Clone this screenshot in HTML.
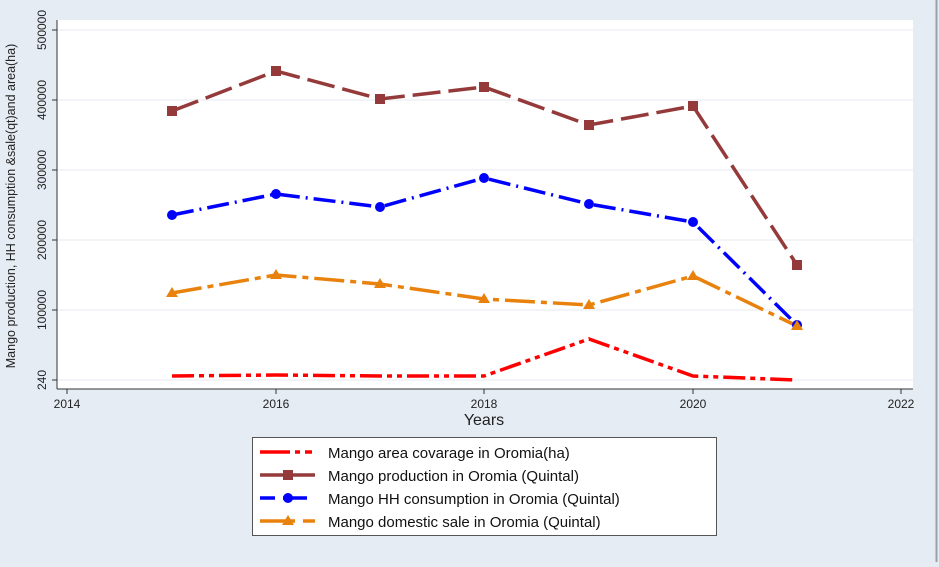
<!DOCTYPE html>
<html><head><style>body{margin:0;background:#e6ecf4}</style></head><body>
<svg width="939" height="562" xmlns="http://www.w3.org/2000/svg" font-family="Liberation Sans, Arial, sans-serif">
<rect width="939" height="562" fill="#e6ecf4"/>
<line x1="936.5" y1="0" x2="936.5" y2="562" stroke="#9aa0a8" stroke-width="2"/>
<rect x="57" y="20" width="856" height="369" fill="#fff"/>
<g stroke="#eef1f5" stroke-width="1.5">
<line x1="57" y1="30" x2="913" y2="30"/><line x1="57" y1="100" x2="913" y2="100"/>
<line x1="57" y1="170" x2="913" y2="170"/><line x1="57" y1="240" x2="913" y2="240"/>
<line x1="57" y1="310" x2="913" y2="310"/><line x1="57" y1="380" x2="913" y2="380"/>
</g>
<g stroke="#333" stroke-width="1">
<line x1="57" y1="20" x2="57" y2="389"/><line x1="57" y1="389" x2="913" y2="389"/>
<line x1="52" y1="30" x2="57" y2="30"/><line x1="52" y1="100" x2="57" y2="100"/><line x1="52" y1="170" x2="57" y2="170"/><line x1="52" y1="240" x2="57" y2="240"/><line x1="52" y1="310" x2="57" y2="310"/><line x1="52" y1="380" x2="57" y2="380"/>
<line x1="67" y1="389" x2="67" y2="394"/><line x1="276" y1="389" x2="276" y2="394"/><line x1="484" y1="389" x2="484" y2="394"/><line x1="693" y1="389" x2="693" y2="394"/><line x1="901" y1="389" x2="901" y2="394"/>
</g>
<g font-size="12" fill="#222" text-anchor="middle">
<text x="67" y="408">2014</text><text x="276" y="408">2016</text><text x="484" y="408">2018</text><text x="693" y="408">2020</text><text x="901" y="408">2022</text>
</g>
<g font-size="12" fill="#222" text-anchor="middle">
<text transform="translate(46,30) rotate(-90)">500000</text>
<text transform="translate(46,100) rotate(-90)">400000</text>
<text transform="translate(46,170) rotate(-90)">300000</text>
<text transform="translate(46,240) rotate(-90)">200000</text>
<text transform="translate(46,310) rotate(-90)">100000</text>
<text transform="translate(46,380) rotate(-90)">240</text>
<text transform="translate(15,206) rotate(-90)" font-size="12.5">Mango production, HH consumption &amp;sale(qt)and area(ha)</text>
</g>
<text x="484" y="425" font-size="16" text-anchor="middle" fill="#222">Years</text>
<g fill="none" stroke-width="3.5">
<polyline stroke="#ff0000" stroke-dasharray="22,5,5,5,5,5" points="172,376 276,375 380,376 484,376 589,339 693,376 797,380"/>
<polyline stroke="#953a3a" stroke-dasharray="28,8" points="172,111 276,71 380,99 484,87 589,125 693,106 797,265"/>
<polyline stroke="#0000ff" stroke-dasharray="22,6,2,6" points="172,215 276,194 380,207 484,178 589,204 693,222 797,325"/>
<polyline stroke="#e8820c" stroke-dasharray="30,6,6,6" points="172,293 276,275 380,284 484,299 589,305 693,276 797,326"/>
</g>
<g fill="#953a3a">
<rect x="167" y="106" width="10" height="10"/><rect x="271" y="66" width="10" height="10"/><rect x="375" y="94" width="10" height="10"/><rect x="479" y="82" width="10" height="10"/><rect x="584" y="120" width="10" height="10"/><rect x="688" y="101" width="10" height="10"/><rect x="792" y="260" width="10" height="10"/>
</g>
<g fill="#0000ff">
<circle cx="172" cy="215" r="5"/><circle cx="276" cy="194" r="5"/><circle cx="380" cy="207" r="5"/><circle cx="484" cy="178" r="5"/><circle cx="589" cy="204" r="5"/><circle cx="693" cy="222" r="5"/><circle cx="797" cy="325" r="5"/>
</g>
<g fill="#e8820c">
<polygon points="172,287 166,297 178,297"/><polygon points="276,269 270,279 282,279"/><polygon points="380,278 374,288 386,288"/><polygon points="484,293 478,303 490,303"/><polygon points="589,299 583,309 595,309"/><polygon points="693,270 687,280 699,280"/><polygon points="797,320 791,330 803,330"/>
</g>
<rect x="252.5" y="437.5" width="464" height="98" fill="#fff" stroke="#555"/>
<g stroke-width="3.5">
<line x1="260" y1="452" x2="290" y2="452" stroke="#ff0000"/><line x1="295" y1="452" x2="300" y2="452" stroke="#ff0000"/><line x1="305" y1="452" x2="312" y2="452" stroke="#ff0000"/>
<line x1="260" y1="475" x2="315" y2="475" stroke="#953a3a"/>
<line x1="260" y1="498" x2="275" y2="498" stroke="#0000ff"/><line x1="283" y1="498" x2="307" y2="498" stroke="#0000ff"/>
<line x1="260" y1="521" x2="295" y2="521" stroke="#e8820c"/><line x1="303" y1="521" x2="315" y2="521" stroke="#e8820c"/>
</g>
<rect x="283" y="470" width="10" height="10" fill="#953a3a"/>
<circle cx="288" cy="498" r="5" fill="#0000ff"/>
<polygon points="288,515 282,525 294,525" fill="#e8820c"/>
<g font-size="15" fill="#111">
<text x="328" y="458">Mango area covarage in Oromia(ha)</text>
<text x="328" y="481">Mango production in Oromia (Quintal)</text>
<text x="328" y="504">Mango HH consumption in Oromia (Quintal)</text>
<text x="328" y="527">Mango domestic sale in Oromia (Quintal)</text>
</g>
</svg>
</body></html>
